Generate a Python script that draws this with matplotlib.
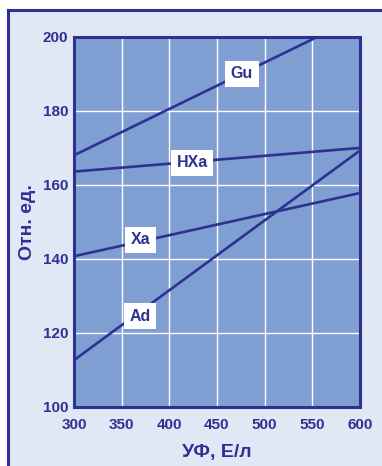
import matplotlib
matplotlib.use("Agg")
import matplotlib.pyplot as plt
from matplotlib.patches import Rectangle

# series data (x = УФ, Е/л ; y = Отн. ед.)
names = ["Gu", "HXa", "Xa", "Ad"]
x_start = [300, 300, 300, 300]
x_end = [555, 600, 600, 600]
y_start = [168, 163.6, 140.7, 112.6]
y_end = [200, 170, 157.8, 169.3]
label_pos = [(476, 190), (424, 166), (370, 145.2), (369, 124.5)]

x_ticks = [300, 350, 400, 450, 500, 550, 600]
y_ticks = [100, 120, 140, 160, 180, 200]

navy = "#2e3192"
plot_bg = "#7f9fd3"
outer_bg = "#e1e8f5"

plt.rcParams['font.family'] = ['Liberation Sans', 'DejaVu Sans']

fig = plt.figure(figsize=(3.82, 4.66), dpi=100)
fig.patch.set_facecolor("white")

# outer frame, runs off right and bottom edges
frame = Rectangle((8.3 / 382, -0.1), 1.2, 1 - 10 / 466 + 0.1, transform=fig.transFigure,
                  facecolor=outer_bg, edgecolor=navy, linewidth=2.2, zorder=-10)
fig.patches.append(frame)

ax = fig.add_axes([74 / 382, 1 - 406.7 / 466, 286 / 382, 369.7 / 466])
ax.set_zorder(1)
ax.set_facecolor(plot_bg)

for name, x0, x1, y0, y1, (lx, ly) in zip(names, x_start, x_end, y_start, y_end, label_pos):
    ax.plot([x0, x1], [y0, y1], color=navy, linewidth=1.9, solid_capstyle="butt", zorder=3)
    ax.text(lx, ly, name, color=navy, fontsize=11.5, fontweight="bold", ha="center", va="center",
            zorder=4, bbox=dict(boxstyle="square,pad=0.35", facecolor="white", edgecolor="none"))

ax.set_xlim(300, 600)
ax.set_ylim(100, 200)
ax.set_xticks(x_ticks)
ax.set_yticks(y_ticks)
ax.grid(True, color="white", linewidth=1.0, zorder=1)
ax.set_axisbelow(True)
ax.tick_params(axis="y", length=0, pad=4, labelsize=11, labelcolor=navy)
ax.tick_params(axis="x", length=0, pad=8, labelsize=11, labelcolor=navy)
for lab in ax.get_xticklabels() + ax.get_yticklabels():
    lab.set_fontweight("bold")
for sp in ax.spines.values():
    sp.set_color(navy)
    sp.set_linewidth(2.2)

ax.set_xlabel("УФ, Е/л", fontsize=14, fontweight="bold", color=navy, labelpad=9)
ax.set_ylabel("Отн. ед.", fontsize=14, fontweight="bold", color=navy, labelpad=5)

fig.savefig("out.png", dpi=100)
